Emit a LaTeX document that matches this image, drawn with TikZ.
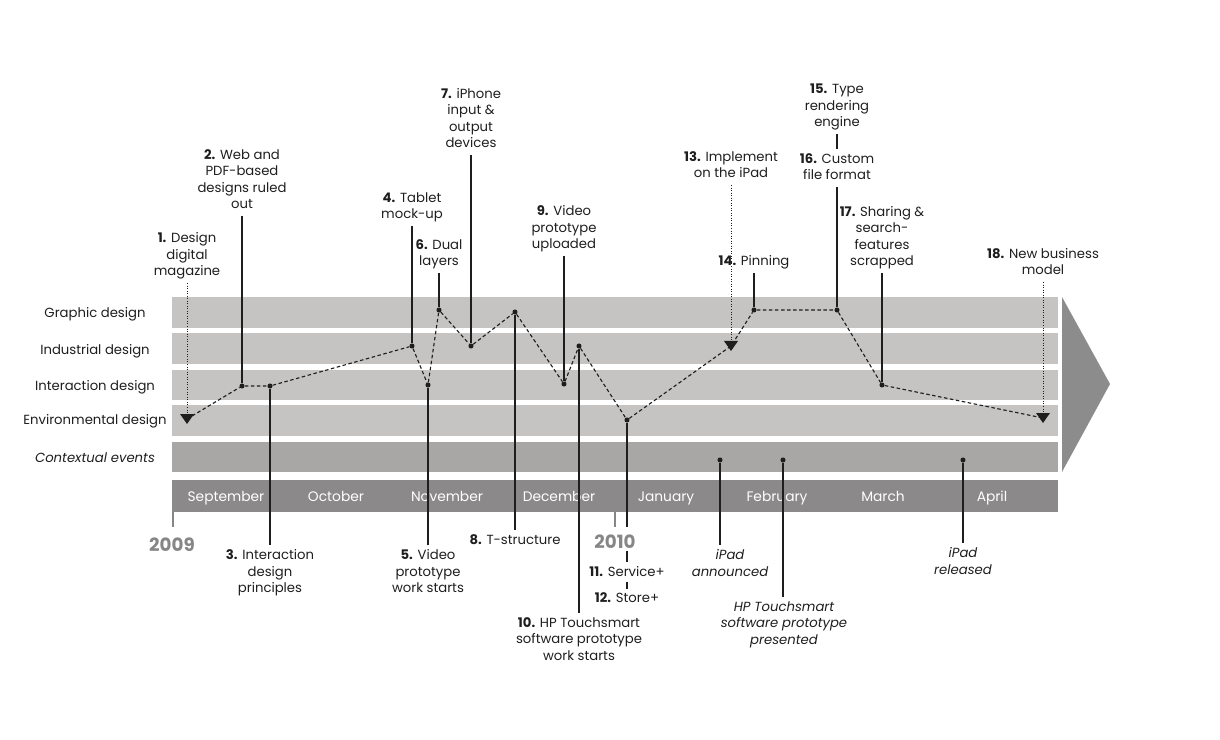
\documentclass[tikz,border=0pt]{standalone}
\usepackage{fontspec}
\setmainfont{Poppins}
\usetikzlibrary{positioning}
\definecolor{bandgray}{RGB}{198,196,195}
\definecolor{ctxgray}{RGB}{169,167,166}
\definecolor{monthgray}{RGB}{139,137,137}
\definecolor{arrowgray}{RGB}{141,140,140}
\definecolor{yeargray}{RGB}{135,134,134}
\definecolor{ink}{RGB}{30,30,30}
\tikzstyle{every picture}=[x=0.025cm, y=-0.025cm]
\tikzstyle{smalldot}=[circle, fill=ink, inner sep=0pt, minimum size=3.6pt]
\tikzstyle{labelfont}=[font=\fontsize{9.4}{11.7}\selectfont, text=ink]
\tikzstyle{toplabel}=[labelfont, anchor=south, align=center, inner sep=3pt, text depth=2pt]
\tikzstyle{botlabel}=[labelfont, anchor=north, align=center, inner sep=3pt]
\tikzstyle{ctxlabel}=[botlabel, font=\fontsize{9.4}{11.7}\selectfont\itshape]
\tikzstyle{rowlabel}=[labelfont]
\tikzstyle{monthlabel}=[font=\fontsize{9.8}{11.7}\selectfont, text=white, anchor=base]
\tikzstyle{yearlabel}=[font=\fontsize{13}{15}\selectfont\bfseries, text=yeargray, inner sep=1pt]
\tikzstyle{stem}=[draw=ink, line width=0.9pt]
\tikzstyle{hint}=[draw=ink, line width=0.6pt, dash pattern=on 0.6pt off 1.2pt]
\tikzstyle{trail}=[draw=ink, line width=0.8pt, dash pattern=on 2.5pt off 1.8pt]
\tikzstyle{yeartick}=[draw=yeargray, line width=1.4pt]
\tikzset{downmark/.pic={\fill[ink] (-7,-5) -- (7,-5) -- (0,5) -- cycle;}}

\begin{document}
\begin{tikzpicture}
	\useasboundingbox (0,0) rectangle (1220,740);

	% bands
	\fill[bandgray] (172,297) rectangle (1058,328);
	\fill[bandgray] (172,333) rectangle (1058,364);
	\fill[bandgray] (172,370) rectangle (1058,400);
	\fill[bandgray] (172,405) rectangle (1058,436);
	\fill[ctxgray] (172,442) rectangle (1058,472);
	\fill[monthgray] (172,480) rectangle (1058,512);
	\fill[arrowgray] (1062,297) -- (1110,384) -- (1062,472) -- cycle;

	\node[rowlabel] (r_graphic) at (95,314) {Graphic design};
	\node[rowlabel] (r_industrial) at (95,351) {Industrial design};
	\node[rowlabel] (r_interaction) at (95,387) {Interaction design};
	\node[rowlabel] (r_environmental) at (95,421) {Environmental design};
	\node[rowlabel, font=\fontsize{9.4}{11.7}\selectfont\itshape] (r_context) at (95,458) {Contextual events};

	\foreach \m/\x in {September/226, October/336, November/447, December/559,
	                   January/666, February/777, March/883, April/992}
		\node[monthlabel] at (\x,501) {\m};

	% years
	\coordinate (t_2009) at (173,512);
	\coordinate (t_2010) at (615,512);
	\draw[yeartick] (t_2009) -- ++(0,15);
	\draw[yeartick] (t_2010) -- ++(0,15);
	\node[yearlabel] (y_2009) at (172,545) {2009};
	\node[yearlabel] (y_2010) at (615,542) {2010};

	% project steps
	\path (187,419) coordinate (p_1)
	      (242,386) node[smalldot] (p_2) {}
	      (270,386) node[smalldot] (p_3) {}
	      (412,346) node[smalldot] (p_4) {}
	      (428,385) node[smalldot] (p_5) {}
	      (439,310) node[smalldot] (p_6) {}
	      (471,346) node[smalldot] (p_7) {}
	      (515,312) node[smalldot] (p_8) {}
	      (564,384) node[smalldot] (p_9) {}
	      (579,346) node[smalldot] (p_10) {}
	      (627,420) node[smalldot] (p_11) {}
	      (731,346) coordinate (p_13)
	      (754,310) node[smalldot] (p_14) {}
	      (837,310) node[smalldot] (p_16) {}
	      (882,385) node[smalldot] (p_17) {}
	      (1043,418) coordinate (p_18);

	% contextual events
	\path (720,460) node[smalldot] (e_1) {}
	      (783,460) node[smalldot] (e_2) {}
	      (963,460) node[smalldot] (e_3) {};

	\draw[trail] (p_1) -- (p_2) -- (p_3) -- (p_4) -- (p_5) -- (p_6) -- (p_7) -- (p_8) -- (p_9)
	             -- (p_10) -- (p_11) -- (p_13) -- (p_14) -- (p_16) -- (p_17) -- (p_18);
	\path (p_1) pic {downmark} (p_13) pic {downmark} (p_18) pic {downmark};

	% labels above
	\node[toplabel] (l_1) at (187,283) {\textbf{1.} Design\\digital\\magazine};
	\node[toplabel] (l_2) at (242,216) {\textbf{2.} Web and\\PDF-based\\designs ruled\\out};
	\node[toplabel] (l_4) at (412,226) {\textbf{4.} Tablet\\mock-up};
	\node[toplabel] (l_6) at (439,273) {\textbf{6.} Dual\\layers};
	\node[toplabel] (l_7) at (471,155) {\textbf{7.} iPhone\\input \&\\output\\devices};
	\node[toplabel] (l_9) at (564,256) {\textbf{9.} Video\\prototype\\uploaded};
	\node[toplabel] (l_13) at (731,185) {\textbf{13.} Implement\\on the iPad};
	\node[toplabel] (l_14) at (754,273) {\textbf{14.} Pinning};
	\node[toplabel] (l_15) at (837,134) {\textbf{15.} Type\\rendering\\engine};
	\node[toplabel] (l_16) at (837,187) {\textbf{16.} Custom\\file format};
	\node[toplabel] (l_17) at (882,273) {\textbf{17.} Sharing \&\\search-\\features\\scrapped};
	\node[toplabel] (l_18) at (1043,282) {\textbf{18.} New business\\model};

	% labels below
	\node[botlabel] (l_3) at (270,545) {\textbf{3.} Interaction\\design\\principles};
	\node[botlabel] (l_5) at (428,545) {\textbf{5.} Video\\prototype\\work starts};
	\node[botlabel] (l_8) at (515,530) {\textbf{8.} T-structure};
	\node[botlabel] (l_10) at (579,613) {\textbf{10.} HP Touchsmart\\software prototype\\work starts};
	\node[botlabel, anchor=center] (l_11) at (627,572) {\textbf{11.} Service+};
	\node[botlabel, anchor=center] (l_12) at (627,598) {\textbf{12.} Store+};
	\node[ctxlabel] (c_1) at (730,545) {iPad\\announced};
	\node[ctxlabel] (c_2) at (784,597) {HP Touchsmart\\software prototype\\presented};
	\node[ctxlabel] (c_3) at (963,543) {iPad\\released};

	\draw[hint] (l_1) -- (p_1);
	\draw[stem] (l_2) -- (p_2);
	\draw[stem] (p_3) -- (l_3);
	\draw[stem] (l_4) -- (p_4);
	\draw[stem] (p_5) -- (l_5);
	\draw[stem] (l_6) -- (p_6);
	\draw[stem] (l_7) -- (p_7);
	\draw[stem] (p_8) -- (l_8);
	\draw[stem] (l_9) -- (p_9);
	\draw[stem] (p_10) -- (l_10);
	\draw[stem] (p_11) -- (p_11 |- t_2010) -- ++(0,15);
	\draw[stem] (y_2010.south -| p_11) -- (l_11.north -| p_11);
	\draw[stem] (l_11.south -| p_11) -- (l_12.north -| p_11);
	\draw[hint] (l_13) -- (p_13);
	\draw[stem] (l_14.south -| p_14) -- (p_14);
	\draw[stem] (l_15) -- (l_16);
	\draw[stem] (l_16) -- (p_16);
	\draw[stem] (l_17) -- (p_17);
	\draw[hint] (l_18) -- (p_18);
	\draw[stem] (e_1) -- (e_1 |- c_1.north);
	\draw[stem] (e_2) -- (e_2 |- c_2.north);
	\draw[stem] (e_3) -- (e_3 |- c_3.north);
\end{tikzpicture}
\end{document}
